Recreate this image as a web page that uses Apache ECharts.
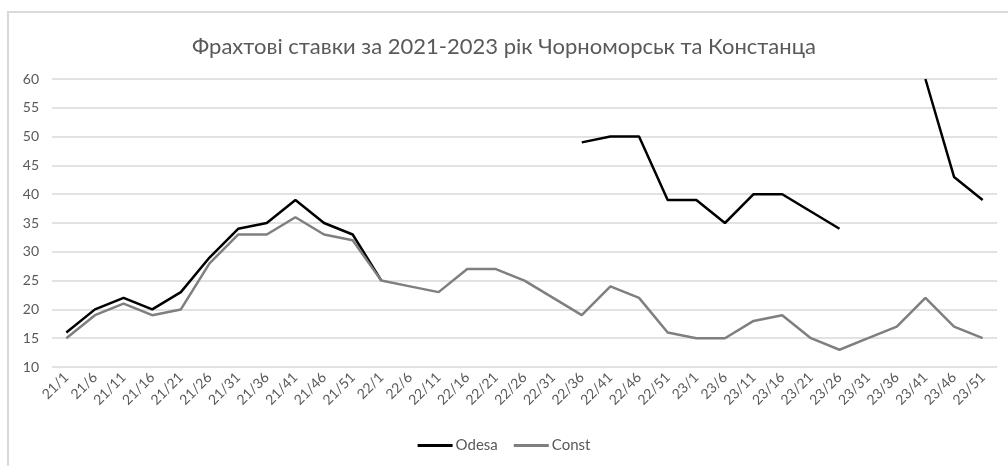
<!DOCTYPE html>
<html>
<head>
<meta charset="utf-8">
<script src="https://cdn.jsdelivr.net/npm/echarts@6/dist/echarts.min.js"></script>
<style>
  html, body { margin: 0; padding: 0; background: #fff; }
  #frame { position: absolute; left: 7px; top: 11px; width: 1010px; height: 470px;
           border-top: 2px solid #d9d9d9; border-left: 2px solid #d9d9d9; }
  #chart { position: absolute; left: 0; top: 0; width: 1008px; height: 466px; }
</style>
</head>
<body>
<div id="frame"></div>
<div id="chart"></div>
<script>
  // тижні (рік/тиждень)
  const weeks = [
    '21/1', '21/6', '21/11', '21/16', '21/21', '21/26', '21/31', '21/36', '21/41', '21/46', '21/51',
    '22/1', '22/6', '22/11', '22/16', '22/21', '22/26', '22/31', '22/36', '22/41', '22/46', '22/51',
    '23/1', '23/6', '23/11', '23/16', '23/21', '23/26', '23/31', '23/36', '23/41', '23/46', '23/51'
  ]
  const odesa = [
    16, 20, 22, 20, 23, 29, 34, 35, 39, 35, 33,
    25, null, null, null, null, null, null, 49, 50, 50, 39,
    39, 35, 40, 40, 37, 34, null, null, 60, 43, 39
  ]
  const constanta = [
    15, 19, 21, 19, 20, 28, 33, 33, 36, 33, 32,
    25, 24, 23, 27, 27, 25, 22, 19, 24, 22, 16,
    15, 15, 18, 19, 15, 13, 15, 17, 22, 17, 15
  ]

  const txt = '#595959'
  const font = 'Lato, "Open Sans", sans-serif'

  const chart = echarts.init(document.getElementById('chart'))
  chart.setOption({
    animation: false,
    title: {
      text: 'Фрахтові ставки за 2021-2023 рік Чорноморськ та Констанца',
      left: 'center',
      top: 31,
      textStyle: { color: txt, fontSize: 22, fontWeight: 'normal', fontFamily: font }
    },
    legend: {
      bottom: 8,
      left: 'center',
      itemWidth: 35,
      itemHeight: 3,
      itemGap: 16,
      icon: 'rect',
      textStyle: { color: txt, fontSize: 15, fontFamily: font, padding: [0, 0, 0, -2] },
      data: ['Odesa', 'Const']
    },
    grid: { left: 52, right: 11, top: 79, bottom: 99 },
    xAxis: {
      type: 'category',
      data: weeks,
      boundaryGap: true,
      axisLine: { show: false },
      axisTick: { show: false },
      axisLabel: { rotate: 45, interval: 0, margin: 8, color: txt, fontSize: 14, fontFamily: font }
    },
    yAxis: {
      type: 'value',
      min: 10,
      max: 60,
      interval: 5,
      axisLine: { show: false },
      axisTick: { show: false },
      axisLabel: { color: txt, fontSize: 14, fontFamily: font, margin: 13 },
      splitLine: { lineStyle: { color: '#d9d9d9', width: 1.5 } }
    },
    series: [
      {
        name: 'Odesa',
        type: 'line',
        data: odesa,
        showSymbol: false,
        connectNulls: false,
        itemStyle: { color: '#000000' },
        lineStyle: { color: '#000000', width: 2.5 }
      },
      {
        name: 'Const',
        type: 'line',
        data: constanta,
        showSymbol: false,
        itemStyle: { color: '#7f7f7f' },
        lineStyle: { color: '#7f7f7f', width: 2.5 }
      }
    ]
  })
</script>
</body>
</html>
